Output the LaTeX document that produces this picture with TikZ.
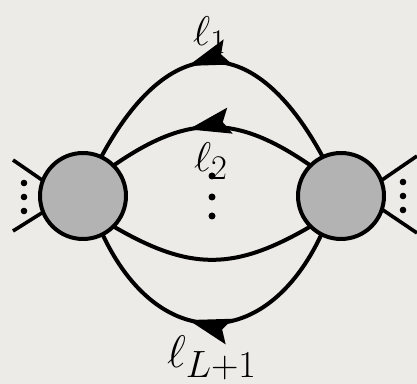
\documentclass[tikz,border=0pt]{standalone}
\usetikzlibrary{arrows.meta,decorations.markings}
\DeclareMathSizes{20.74}{20.74}{17.28}{14.4}
\DeclareMathSizes{17.28}{17.28}{17.28}{12}
\definecolor{paper}{RGB}{237,235,231}
\definecolor{blobgray}{RGB}{179,179,179}
\pgfdeclarelayer{bg}
\pgfdeclarelayer{edges}
\pgfsetlayers{bg,edges,main}
\tikzset{
  blob/.style={circle, draw=black, fill=blobgray, line width=2pt,
    minimum size=43pt, inner sep=0pt, outer sep=0pt},
  prop/.style={draw=black, line width=2pt},
  leg/.style={draw=black, line width=1.8pt},
  arrowmid/.style={postaction={decorate}, decoration={markings,
    mark=at position #1 with {\arrow{Stealth[length=21pt,width=13pt,inset=3.5pt]}}}},
  lab/.style={inner sep=0pt, font=\huge},
}
\begin{document}
\begin{tikzpicture}[x=0.5pt,y=0.5pt]
\begin{pgfonlayer}{bg}
\fill[paper] (0,0) rectangle (417,384);
\end{pgfonlayer}
\useasboundingbox (0,0) rectangle (417,384);

\node[blob] (L) at (83,188) {};
\node[blob] (R) at (341,188) {};

\coordinate (la) at (13,224);
\coordinate (lb) at (13,153);
\coordinate (ra) at (417,228);
\coordinate (rb) at (417,151);

\begin{pgfonlayer}{edges}
\draw[leg] (L.159) -- (la);
\draw[leg] (L.202) -- (lb);
\draw[leg] (R.21) -- (ra);
\draw[leg] (R.-18) -- (rb);

\draw[prop, arrowmid=0.58] (R.115) .. controls (254,354) and (170,354) .. (L.65);
\draw[prop, arrowmid=0.61] (R.135) .. controls (236,270) and (188,270) .. (L.45);
\draw[prop] (R.-135) .. controls (234,113) and (190,113) .. (L.-45);
\draw[prop, arrowmid=0.58] (R.-117) .. controls (266,31) and (158,31) .. (L.-63);
\end{pgfonlayer}

\fill (24,201) circle[radius=3.3];
\fill (24,187) circle[radius=3.3];
\fill (24,173) circle[radius=3.3];
\fill (403,202) circle[radius=3.3];
\fill (403,188) circle[radius=3.3];
\fill (403,174) circle[radius=3.3];

\node[lab] (l1) at (210,349) {$\ell_1$};
\node[lab] (l2) at (211,223) {$\ell_2$};
\node[lab, scale=1.1] (lL) at (212,26) {$\ell_{L+1}$};

\fill (212,208) circle[radius=3.5];
\fill (212,187) circle[radius=3.5];
\fill (212,168) circle[radius=3.5];
\end{tikzpicture}
\end{document}
